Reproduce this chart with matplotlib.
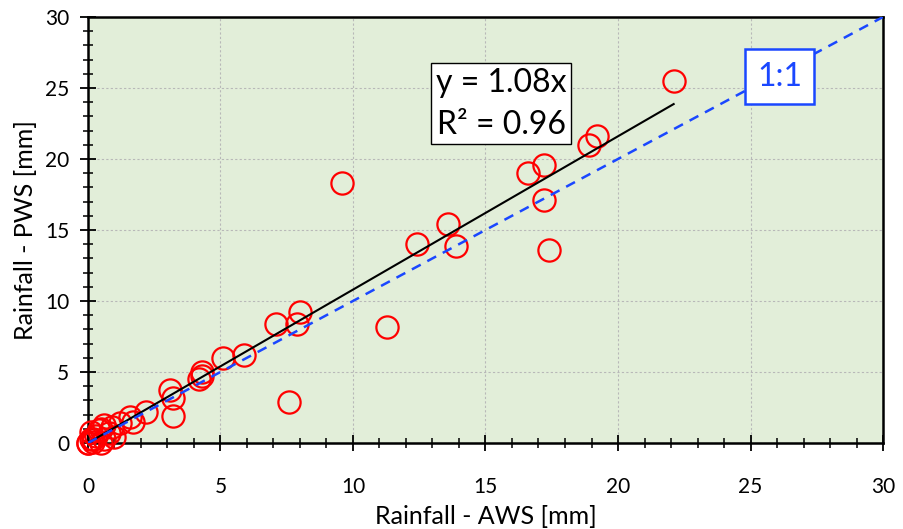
import matplotlib.pyplot as plt
import numpy as np
from matplotlib.ticker import MultipleLocator

plt.rcParams['font.family'] = ['Lato', 'DejaVu Sans']

# rainfall totals (AWS vs PWS), mm
aws = [22.1, 19.2, 18.9, 17.2, 16.6, 17.2, 17.4, 13.6, 12.4, 13.9,
       9.6, 11.3, 8.0, 7.1, 7.9, 7.6, 5.9, 5.1, 4.3, 4.2, 4.3,
       3.1, 3.2, 3.2, 2.2, 1.6, 1.7, 1.2, 1.0, 0.6,
       0.0, 0.1, 0.2, 0.3, 0.1, 0.5, 0.5, 0.6, 0.8, 0.0, 0.2, 0.4, 0.9]
pws = [25.5, 21.6, 21.0, 19.6, 19.0, 17.1, 13.6, 15.4, 14.0, 13.9,
       18.3, 8.2, 9.2, 8.4, 8.4, 2.9, 6.2, 6.0, 5.0, 4.5, 4.7,
       3.7, 3.2, 1.9, 2.2, 1.8, 1.5, 1.4, 0.4, 1.3,
       0.0, 0.3, 0.1, 0.5, 0.8, 0.0, 1.0, 0.3, 0.7, 0.0, 0.3, 0.9, 1.1]
slope = 1.08
r2 = 0.96
axis_max = 30

fig = plt.figure(figsize=(9.04, 5.29), dpi=100)
ax = fig.add_axes([0.0973, 0.1626, 0.8795, 0.8053])
ax.set_facecolor('#e2eed9')

ax.plot(aws, pws, 'o', ms=16, mfc='none', mec='#ff0000', mew=1.6,
        zorder=3, clip_on=False)

# fitted line through origin and 1:1 reference
xfit = np.array([0, max(aws)])
ax.plot(xfit, slope * xfit, color='black', lw=1.5, zorder=4)
ax.plot([0, axis_max], [0, axis_max], color='#1a47ff', lw=1.8,
        ls=(0, (4, 3)), zorder=4)

ax.set_xlim(0, axis_max)
ax.set_ylim(0, axis_max)
ax.xaxis.set_major_locator(MultipleLocator(5))
ax.yaxis.set_major_locator(MultipleLocator(5))
ax.xaxis.set_minor_locator(MultipleLocator(1))
ax.yaxis.set_minor_locator(MultipleLocator(1))
ax.grid(True, which='major', color='#b8b8b8', ls=(0, (2, 2)), lw=0.8, zorder=0)
ax.set_axisbelow(True)

ax.tick_params(axis='both', which='major', direction='inout', length=11,
               width=1.3, labelsize=15, colors='black')
ax.tick_params(axis='both', which='minor', direction='inout', length=7, width=1.1)
ax.tick_params(axis='x', which='major', pad=19)
ax.tick_params(axis='y', which='major', pad=8)
for s in ax.spines.values():
    s.set_linewidth(1.8)

ax.set_xlabel('Rainfall - AWS [mm]', fontsize=18, labelpad=6)
ax.set_ylabel('Rainfall - PWS [mm]', fontsize=18, labelpad=6)

ax.text(15.6, 23.9, f'y = {slope:.2f}x\nR² = {r2:.2f}', fontsize=23,
        ha='center', va='center', linespacing=1.5, zorder=6,
        bbox=dict(boxstyle='square,pad=0.15', fc='white', ec='black', lw=1))
ax.text(26.1, 25.8, '1:1', fontsize=23, color='#1a47ff', ha='center',
        va='center', zorder=6,
        bbox=dict(boxstyle='square,pad=0.38', fc='white', ec='#1a47ff', lw=1.8))

fig.savefig('out.png', dpi=100)
